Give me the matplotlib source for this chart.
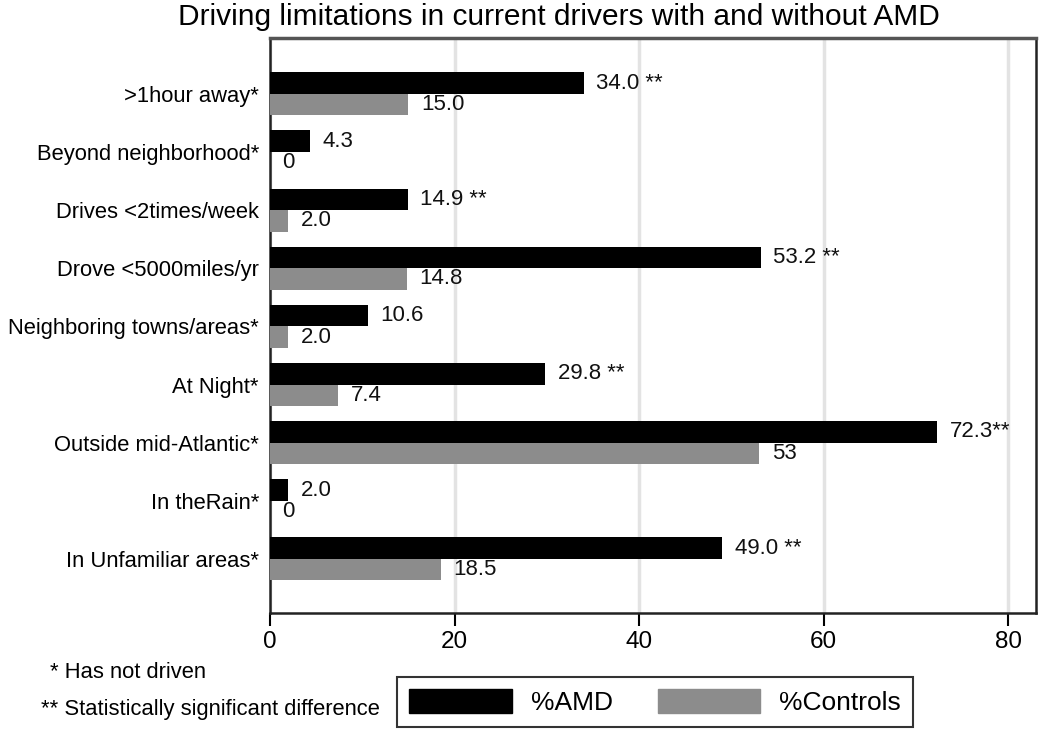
import matplotlib
matplotlib.use("Agg")
import matplotlib.pyplot as plt
from matplotlib.patches import Patch
import numpy as np

categories = [">1hour away*", "Beyond neighborhood*", "Drives <2times/week",
              "Drove <5000miles/yr", "Neighboring towns/areas*", "At Night*",
              "Outside mid-Atlantic*", "In theRain*", "In Unfamiliar areas*"]
amd = [34.0, 4.3, 14.9, 53.2, 10.6, 29.8, 72.3, 2.0, 49.0]
controls = [15.0, 0, 2.0, 14.8, 2.0, 7.4, 53, 0, 18.5]
amd_labels = ["34.0 **", "4.3", "14.9 **", "53.2 **", "10.6", "29.8 **", "72.3**", "2.0", "49.0 **"]
ctrl_labels = ["15.0", "0", "2.0", "14.8", "2.0", "7.4", "53", "0", "18.5"]
xticks = [0, 20, 40, 60, 80]

plt.rcParams['font.family'] = ['Liberation Sans', 'DejaVu Sans']

fig = plt.figure(figsize=(10.5, 7.4), dpi=100)
ax = fig.add_axes([270/1050, 1-613/740, (1036-270)/1050, (613-38)/740])

y = np.arange(len(categories))
h = 0.37
ax.barh(y - h/2, amd, height=h, color='black', zorder=3)
ax.barh(y + h/2, controls, height=h, color='#8c8c8c', zorder=3)

for yi, v, lab in zip(y, amd, amd_labels):
    ax.annotate(lab, (v, yi - h/2), xytext=(9, 0), textcoords='offset points',
                va='center', ha='left', fontsize=16, color='#111111')
for yi, v, lab in zip(y, controls, ctrl_labels):
    ax.annotate(lab, (v, yi + h/2), xytext=(9, 0), textcoords='offset points',
                va='center', ha='left', fontsize=16, color='#111111')

ax.set_xlim(0, 83)
ax.set_ylim(8.93, -0.96)
ax.set_yticks(y)
ax.set_yticklabels(categories, fontsize=15.8)
ax.tick_params(axis='y', length=0, pad=8)
ax.set_xticks(xticks)
ax.set_xticklabels([str(t) for t in xticks], fontsize=17.5)
ax.tick_params(axis='x', length=9, width=1.5, direction='out', pad=4)
ax.grid(axis='x', color='#e3e3e3', linewidth=2.5, zorder=0)
for s in ['left', 'bottom', 'right']:
    ax.spines[s].set_color('#222222')
    ax.spines[s].set_linewidth(1.8)
ax.spines['top'].set_color('#555555')
ax.spines['top'].set_linewidth(2.5)

fig.text(558.5/1050, 1-25/740, "Driving limitations in current drivers with and without AMD",
         ha='center', va='baseline', fontsize=21.5)

fig.text(50/1050, 1-672/740, "* Has not driven", ha='left', va='center', fontsize=15.8)
fig.text(41/1050, 1-710/740, "** Statistically significant difference", ha='left', va='center', fontsize=15.8)

handles = [Patch(facecolor='black', edgecolor='black'), Patch(facecolor='#8c8c8c', edgecolor='#8c8c8c')]
leg = fig.legend(handles, ["%AMD", "%Controls"], loc='center', ncol=2,
                 bbox_to_anchor=(655/1050, 1-702/740), fontsize=19, frameon=True,
                 fancybox=False, edgecolor='black', handlelength=3.9, handleheight=1.05,
                 columnspacing=1.7, handletextpad=0.72, borderpad=0.45,
                 borderaxespad=0)
leg.get_frame().set_linewidth(1.5)

fig.savefig("out.png", dpi=100)
